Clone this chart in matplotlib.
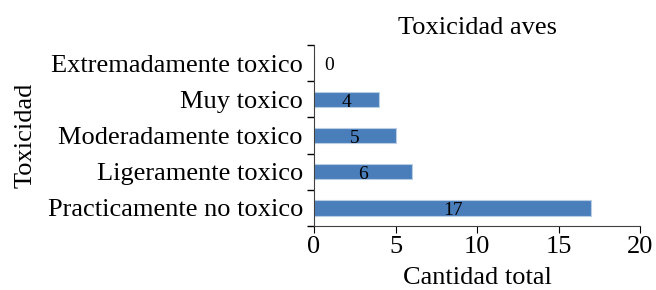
import matplotlib
matplotlib.use("Agg")
import matplotlib.pyplot as plt
import numpy as np

categorias = ["Practicamente no toxico", "Ligeramente toxico", "Moderadamente toxico",
              "Muy toxico", "Extremadamente toxico"]
cantidades = [17, 6, 5, 4, 0]

plt.rcParams["font.family"] = ["Liberation Serif", "DejaVu Serif"]
fig = plt.figure(figsize=(6.56, 2.9), dpi=100)
ax = fig.add_axes([314 / 656, 1 - 226 / 290, 326 / 656, 181 / 290])

y = np.arange(len(categorias))
bars = ax.barh(y, cantidades, height=0.42, color="#4a7ebb", edgecolor="#b9cde5", linewidth=0.8)
for b, v in zip(bars, cantidades):
    xc = b.get_x() + b.get_width() / 2 if v > 0 else 0.9
    ax.text(xc, b.get_y() + b.get_height() / 2 - 0.08, str(v), ha="center", va="center", fontsize=14)

ax.set_xlim(0, 20)
ax.set_ylim(-0.5, 4.5)
ax.set_xticks([0, 5, 10, 15, 20])
ax.set_yticks(y)
ax.set_yticklabels(categorias)
ax.set_yticks(np.arange(-0.5, 4.6, 1), minor=True)
ax.tick_params(axis="y", which="major", length=0, pad=8, labelsize=19)
ax.tick_params(axis="y", which="minor", length=5, width=1)
ax.tick_params(axis="x", labelsize=19, length=5, pad=2)
for s in ["top", "right"]:
    ax.spines[s].set_visible(False)
ax.spines["left"].set_color("#404040")
ax.spines["bottom"].set_color("#404040")
ax.set_xlabel("Cantidad total", fontsize=19, labelpad=7)
ax.set_ylabel("Toxicidad", fontsize=19, labelpad=8)
ax.set_title("Toxicidad aves", fontsize=19, pad=8)

fig.savefig("out.png", dpi=100)
